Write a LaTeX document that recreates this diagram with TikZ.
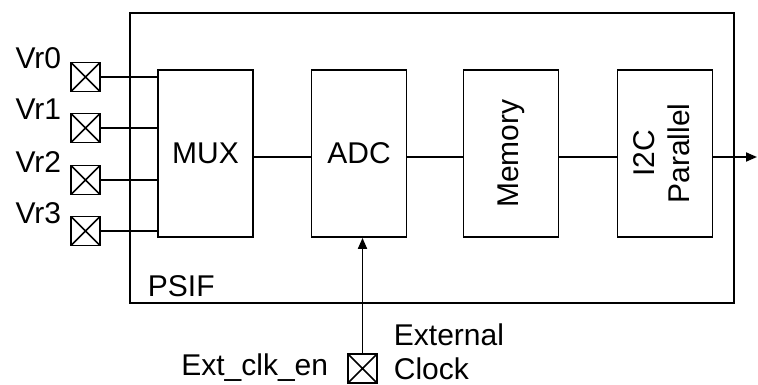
\documentclass[tikz,border=0pt]{standalone}
\usepackage{fontspec}
\setmainfont{Liberation Sans}
\usetikzlibrary{arrows.meta}
\begin{document}
\begin{tikzpicture}[x=1pt,y=-1pt,line width=1.8pt,
  blk/.style={draw,minimum width=95pt,minimum height=167pt,inner sep=0pt,font=\fontsize{30}{35}\selectfont},
  pad/.style={draw,minimum size=29pt,inner sep=0pt,path picture={\draw[line width=1.6pt] (path picture bounding box.south west)--(path picture bounding box.north east) (path picture bounding box.north west)--(path picture bounding box.south east);}},
  lbl/.style={font=\fontsize{30}{36}\selectfont,inner sep=0pt},
  >={Triangle[length=11pt,width=9pt]}]
\useasboundingbox (0,0) rectangle (758,385);
\draw (130,13) rectangle (734,303);
\node[lbl,anchor=base west] (psif) at (147,296) {PSIF};
\node[blk] (mux) at (205.5,153.5) {MUX};
\node[blk] (adc) at (359,153.5) {ADC};
\node[blk] (mem) at (511,153.5) {\rotatebox{90}{Memory}};
\node[blk] (i2c) at (665,153.5) {\rotatebox{90}{\begin{tabular}{@{}c@{}}I2C\\Parallel\end{tabular}}};
\coordinate (out) at (757,157);
\draw (mux.east |- 0,157) -- (adc.west |- 0,157);
\draw (adc.east |- 0,157) -- (mem.west |- 0,157);
\draw (mem.east |- 0,157) -- (i2c.west |- 0,157);
\draw[->] (i2c.east |- 0,157) -- (out);
\foreach \i/\y in {0/77,1/128,2/180,3/231}{
  \node[pad] (p\i) at (85.5,\y) {};
  \node[lbl,anchor=base east] (v\i) at (62,\y-8) {Vr\i};
  \draw (p\i.east) -- (mux.west |- p\i.east);
}
\node[pad] (clk) at (362.5,368.5) {};
\draw[->] (clk.north) -- (clk.north |- adc.south);
\node[lbl,anchor=base east] (ext) at (329,375) {Ext\_clk\_en};
\node[lbl,anchor=base west] (extc1) at (393,345) {External};
\node[lbl,anchor=base west] (extc2) at (393,379) {Clock};
\end{tikzpicture}
\end{document}
